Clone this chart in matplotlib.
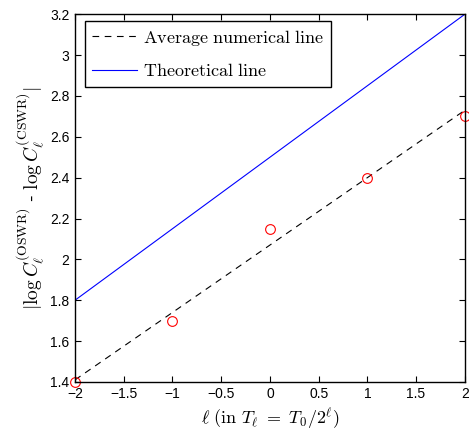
import matplotlib

matplotlib.use("Agg")
import matplotlib.pyplot as plt
from matplotlib.ticker import FuncFormatter, MultipleLocator

# data
levels = [-2, -1, 0, 1, 2]
numerical_diff = [1.40, 1.70, 2.15, 2.40, 2.70]

avg_line_x = [-2, 2]
avg_line_y = [1.41, 2.73]

theory_line_x = [-2, 2]
theory_line_y = [1.80, 3.20]


def main():
    plt.rcParams["mathtext.fontset"] = "cm"
    plt.rcParams["font.family"] = ["Liberation Sans", "DejaVu Sans"]

    fig = plt.figure(figsize=(4.69, 4.33), dpi=100)
    ax = fig.add_axes([0.160, 0.118, 0.831, 0.849])

    ax.plot(avg_line_x, avg_line_y, color="black", linestyle=(0, (6, 5)),
            linewidth=0.8, label=r"$\mathrm{Average\ numerical\ line}$")
    ax.plot(theory_line_x, theory_line_y, color="blue", linewidth=0.8,
            label=r"$\mathrm{Theoretical\ line}$")
    ax.plot(levels, numerical_diff, linestyle="none", marker="o",
            markersize=7, markerfacecolor="none", markeredgecolor="red",
            markeredgewidth=0.8, clip_on=False)

    ax.set_xlim(-2, 2)
    ax.set_ylim(1.4, 3.2)
    ax.xaxis.set_major_locator(MultipleLocator(0.5))
    ax.yaxis.set_major_locator(MultipleLocator(0.2))
    ax.xaxis.set_major_formatter(FuncFormatter(lambda v, p: f"{v:g}".replace("-", "\u2212")))
    ax.yaxis.set_major_formatter(FuncFormatter(lambda v, p: f"{v:g}"))
    ax.tick_params(direction="in", top=True, right=True, length=4,
                   width=0.8, labelsize=10, pad=4)
    for spine in ax.spines.values():
        spine.set_linewidth(1.0)

    ax.set_xlabel(r"$\ell\ (\mathrm{in}\ T_\ell\ =\ T_0/2^\ell)$", fontsize=13,
                  labelpad=3)
    ax.set_ylabel(r"$|\log C_\ell^{(\mathrm{OSWR})}$ - $\log C_\ell^{(\mathrm{CSWR})}|$",
                  fontsize=14, labelpad=2)

    leg = ax.legend(loc="upper left", bbox_to_anchor=(0.025, 0.983),
                    borderaxespad=0, fontsize=13, handlelength=2.5,
                    handletextpad=0.3, labelspacing=0.85, borderpad=0.4,
                    fancybox=False, framealpha=1, edgecolor="black")
    leg.get_frame().set_linewidth(1.0)

    fig.savefig("out.png", dpi=100)


if __name__ == "__main__":
    main()
